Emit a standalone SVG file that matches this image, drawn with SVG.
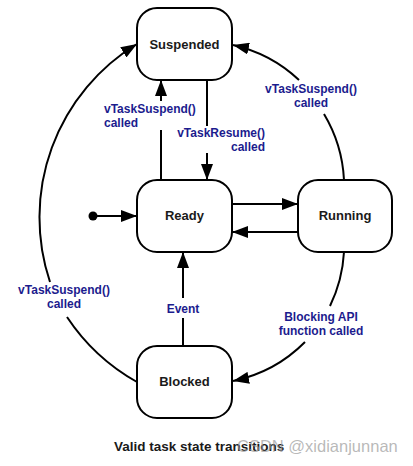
<svg xmlns="http://www.w3.org/2000/svg" width="413" height="466" viewBox="0 0 413 466">
<defs>
<marker id="arr" markerUnits="userSpaceOnUse" markerWidth="17" markerHeight="12" refX="16" refY="6" orient="auto">
<path d="M0,0 L16,6 L0,12 z" fill="#000"/>
</marker>
<style>
.box{fill:#fff;stroke:#000;stroke-width:2}
.nl{font-family:"Liberation Sans",Arial,sans-serif;font-weight:bold;font-size:13px;fill:#1a1a1a;text-anchor:middle}
.el{font-family:"Liberation Sans",Arial,sans-serif;font-weight:bold;font-size:12px;fill:#1c1c8e}
.c{fill:none;stroke:#000;stroke-width:2}
.ca{fill:none;stroke:#000;stroke-width:2;marker-end:url(#arr)}
</style>
</defs>
<rect width="413" height="466" fill="#fff"/>
<g id="connectors">
<circle cx="93" cy="216" r="4.5" fill="#000"/>
<path class="ca" d="M93,216 H137"/>
<path class="ca" d="M232,204 H298"/>
<path class="ca" d="M298,232 H232"/>
<path class="c" d="M161,180 V130"/>
<path class="ca" d="M161,101 V80"/>
<path class="c" d="M207,80 V126"/>
<path class="ca" d="M207,153 V180"/>
<path class="c" d="M183,346 V318"/>
<path class="ca" d="M183,298 V252"/>
<path class="c" d="M137,382 A203,203 0 0 1 67,317"/>
<path class="ca" d="M50,282 A203,203 0 0 1 137,44"/>
<path class="c" d="M344,180 A142,142 0 0 0 324,114"/>
<path class="ca" d="M299,80 A142,142 0 0 0 233,45"/>
<path class="c" d="M344,252 A142,142 0 0 1 330,306"/>
<path class="ca" d="M305,342 A142,142 0 0 1 233,381"/>
<text class="el" x="104" y="113">vTaskSuspend()</text>
<text class="el" x="104" y="127">called</text>
<text class="el" x="265" y="137" text-anchor="end">vTaskResume()</text>
<text class="el" x="265" y="151" text-anchor="end">called</text>
<text class="el" x="311" y="93" text-anchor="middle">vTaskSuspend()</text>
<text class="el" x="311" y="107" text-anchor="middle">called</text>
<text class="el" x="64" y="294" text-anchor="middle">vTaskSuspend()</text>
<text class="el" x="64" y="308" text-anchor="middle">called</text>
<text class="el" x="183" y="313" text-anchor="middle">Event</text>
<text class="el" x="321" y="321" text-anchor="middle">Blocking API</text>
<text class="el" x="321" y="335" text-anchor="middle">function called</text>
</g>
<g id="suspended">
<rect class="box" x="137" y="8" width="95" height="72" rx="20"/>
<text class="nl" x="184.5" y="48.5">Suspended</text>
</g>
<g id="ready">
<rect class="box" x="137" y="180" width="95" height="72" rx="20"/>
<text class="nl" x="184.5" y="220">Ready</text>
</g>
<g id="running">
<rect class="box" x="298" y="180" width="94" height="72" rx="20"/>
<text class="nl" x="345" y="220">Running</text>
</g>
<g id="blocked">
<rect class="box" x="137" y="346" width="95" height="72" rx="20"/>
<text class="nl" x="184.5" y="386">Blocked</text>
</g>
<text x="114" y="451" font-family="Liberation Sans,Arial,sans-serif" font-weight="bold" font-size="13.5" fill="#1a1a1a">Valid task state transitions</text>
<text x="237" y="452" font-family="Liberation Sans,Arial,sans-serif" font-size="16.5" fill="#9a9a9a" fill-opacity="0.7">CSDN @xidianjunnan</text>
</svg>
